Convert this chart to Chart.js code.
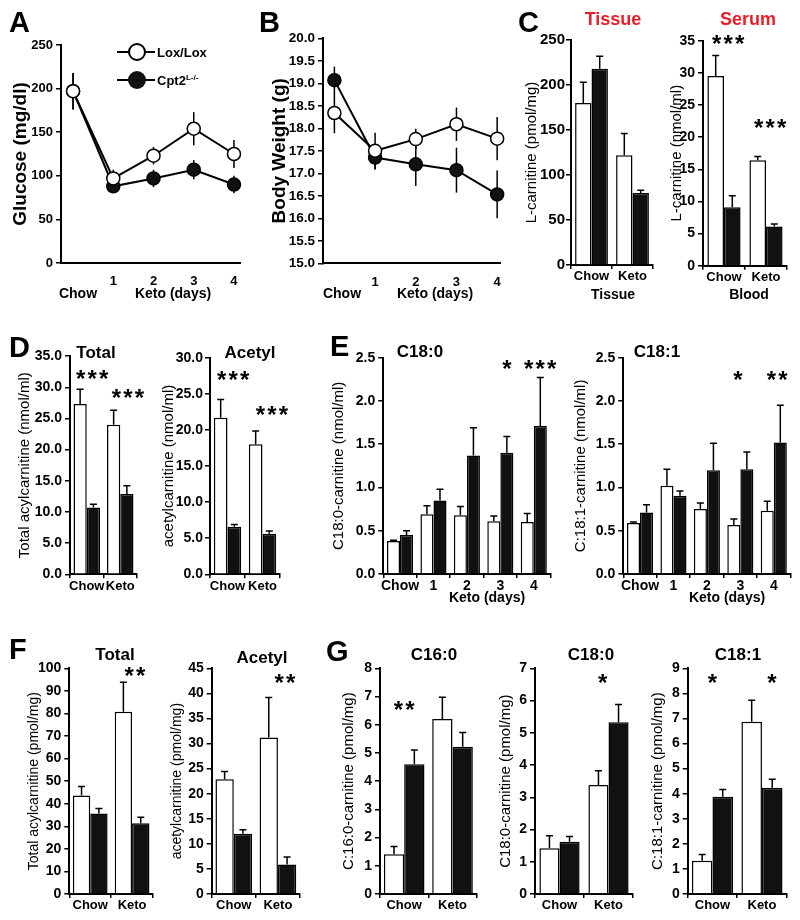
<!DOCTYPE html>
<html><head><meta charset="utf-8">
<script src="https://cdn.jsdelivr.net/npm/chart.js@4.4.0/dist/chart.umd.min.js"></script>
<style>
body{margin:0;background:#fff;width:800px;height:920px;position:relative;overflow:hidden;font-family:"Liberation Sans",Arial,Helvetica,sans-serif;}
canvas{position:absolute;}
.t{position:absolute;white-space:nowrap;line-height:1;color:#000;font-weight:bold;}
</style></head><body>
<script>
// ---------------- DATA ----------------
const dayX = [0, 1, 2, 3, 4];
const dayTicks = [1, 2, 3, 4];
const dayLabels = ['Chow', '1', '2', '3', '4'];
const dietLabels = ['Chow', 'Keto'];

// A: glucose (mg/dl)
const glucoseLox = [197, 97, 123, 154, 125];
const glucoseLoxErr = [21, 10, 10, 19, 16];
const glucoseCpt2 = [197, 88, 97, 107, 90];
const glucoseCpt2Err = [21, 5, 10, 11, 10];

// B: body weight (g)
const weightLox = [18.34, 17.50, 17.76, 18.09, 17.77];
const weightLoxErr = [0.45, 0.40, 0.23, 0.37, 0.48];
const weightCpt2 = [19.07, 17.35, 17.20, 17.07, 16.53];
const weightCpt2Err = [0.30, 0.27, 0.48, 0.50, 0.53];

// C: L-carnitine
const tissueLox = [180, 122], tissueLoxErr = [23, 24];
const tissueCpt2 = [218, 80], tissueCpt2Err = [14, 3];
const serumLox = [29.5, 16.4], serumLoxErr = [3.2, 0.6];
const serumCpt2 = [9.1, 6.1], serumCpt2Err = [1.8, 0.4];
const serumStars = [{x: 0.1, y: 35.2, n: 3}, {x: 1.1, y: 22.1, n: 3}];

// D: serum acylcarnitines
const dTotalLox = [27.3, 24.0], dTotalLoxErr = [2.4, 2.3];
const dTotalCpt2 = [10.7, 12.9], dTotalCpt2Err = [0.55, 1.3];
const dTotalStars = [{x: 0.16, y: 32, n: 3}, {x: 1.23, y: 29, n: 3}];
const dAcetylLox = [21.7, 18.0], dAcetylLoxErr = [2.5, 1.85];
const dAcetylCpt2 = [6.6, 5.6], dAcetylCpt2Err = [0.3, 0.4];
const dAcetylStars = [{x: 0.16, y: 27.6, n: 3}, {x: 1.27, y: 22.75, n: 3}];

// E: serum long-chain acylcarnitines over keto days
const eC180Lox = [0.38, 0.69, 0.68, 0.61, 0.60], eC180LoxErr = [0.01, 0.10, 0.10, 0.06, 0.10];
const eC180Cpt2 = [0.45, 0.85, 1.37, 1.40, 1.71], eC180Cpt2Err = [0.05, 0.13, 0.32, 0.19, 0.56];
const eC180Stars = [{x: 3.2, y: 2.42, n: 1}, {x: 4.19, y: 2.42, n: 3}];
const eC181Lox = [0.59, 1.02, 0.75, 0.565, 0.73], eC181LoxErr = [0.01, 0.19, 0.07, 0.07, 0.11];
const eC181Cpt2 = [0.71, 0.905, 1.20, 1.21, 1.52], eC181Cpt2Err = [0.09, 0.055, 0.31, 0.20, 0.43];
const eC181Stars = [{x: 2.93, y: 2.29, n: 1}, {x: 4.1, y: 2.29, n: 2}];

// F: tissue acylcarnitines
const fTotalLox = [43.6, 80.8], fTotalLoxErr = [4, 13];
const fTotalCpt2 = [35.7, 31.3], fTotalCpt2Err = [2.2, 2.7];
const fTotalStars = [{x: 1.07, y: 98.8, n: 2}];
const fAcetylLox = [22.9, 31.2], fAcetylLoxErr = [1.5, 8];
const fAcetylCpt2 = [12.0, 5.9], fAcetylCpt2Err = [0.8, 1.5];
const fAcetylStars = [{x: 1.16, y: 43, n: 2}];

// G: tissue long-chain acylcarnitines
const gC160Lox = [1.41, 6.2], gC160LoxErr = [0.27, 0.77];
const gC160Cpt2 = [4.6, 5.22], gC160Cpt2Err = [0.5, 0.5];
const gC160Stars = [{x: 0, y: 6.67, n: 2}];
const gC180Lox = [1.42, 3.38], gC180LoxErr = [0.39, 0.44];
const gC180Cpt2 = [1.62, 5.33], gC180Cpt2Err = [0.16, 0.55];
const gC180Stars = [{x: 0.88, y: 6.69, n: 1}];
const gC181Lox = [1.33, 6.87], gC181LoxErr = [0.25, 0.86];
const gC181Cpt2 = [3.88, 4.24], gC181Cpt2Err = [0.29, 0.34];
const gC181Stars = [{x: 0, y: 8.6, n: 1}, {x: 1.2, y: 8.6, n: 1}];

// ---------------- RENDERING ----------------
const FONT = '"Liberation Sans", Arial, Helvetica, sans-serif';
Chart.defaults.font.family = FONT;
Chart.defaults.color = '#000';

function drawErr(chart, opts) {
  const ctx = chart.ctx, ys = chart.scales.y;
  ctx.save();
  ctx.strokeStyle = '#000';
  ctx.lineWidth = 1.5;
  chart.data.datasets.forEach((ds, di) => {
    const meta = chart.getDatasetMeta(di);
    const errs = opts.errs[di];
    meta.data.forEach((el, i) => {
      const raw = ds.data[i];
      const v = (typeof raw === 'object') ? raw.y : raw;
      const e = errs[i];
      const yT = ys.getPixelForValue(v + e);
      const yV = ys.getPixelForValue(v);
      ctx.beginPath();
      if (opts.mode === 'both') {
        const yB = ys.getPixelForValue(v - e);
        ctx.moveTo(el.x, yB); ctx.lineTo(el.x, yT);
      } else {
        const bw = el.width || 10;
        const cap = Math.max(7, Math.min(11, bw * 0.3));
        ctx.moveTo(el.x, yV); ctx.lineTo(el.x, yT);
        ctx.moveTo(el.x - cap / 2, yT); ctx.lineTo(el.x + cap / 2, yT);
      }
      ctx.stroke();
    });
  });
  ctx.restore();
}
const errPlugin = {
  id: 'errbars',
  beforeDatasetsDraw(chart, args, opts) { if (opts.errs && opts.mode === 'both') drawErr(chart, opts); },
  afterDatasetsDraw(chart, args, opts) { if (opts.errs && opts.mode !== 'both') drawErr(chart, opts); }
};
const starPlugin = {
  id: 'stars',
  afterDraw(chart, args, opts) {
    if (!opts.items || !opts.items.length) return;
    const ctx = chart.ctx, xs = chart.scales.x, ys = chart.scales.y;
    const p0 = xs.getPixelForValue(0), p1 = xs.getPixelForValue(1);
    ctx.save();
    ctx.font = 'bold 24px ' + FONT;
    ctx.fillStyle = '#000';
    ctx.textAlign = 'center';
    ctx.textBaseline = 'alphabetic';
    const m = ctx.measureText('*');
    const off = (m.actualBoundingBoxAscent - m.actualBoundingBoxDescent) / 2;
    opts.items.forEach(it => {
      const cx = p0 + it.x * (p1 - p0);
      const cy = ys.getPixelForValue(it.y);
      for (let k = 0; k < it.n; k++) {
        ctx.fillText('*', cx + (k - (it.n - 1) / 2) * 11.5, cy + off);
      }
    });
    ctx.restore();
  }
};

function makeCanvas(g) {
  const padTop = 14;
  const cl = Math.round(g.titleX - (4 + g.titleSize * 0.6));
  const ct = Math.round(g.plotT - padTop);
  const W = Math.ceil(g.plotR - cl + 16);
  const H = Math.ceil(g.plotB - ct + 30);
  const c = document.createElement('canvas');
  c.width = W; c.height = H;
  Object.assign(c.style, {left: cl + 'px', top: ct + 'px', width: W + 'px', height: H + 'px'});
  document.body.appendChild(c);
  return {c, yW: g.plotL - cl, xH: H - (g.plotB - ct), padTop: g.plotT - ct, padRight: W - (g.plotR - cl)};
}

function yScale(k, g, spec) {
  return {
    min: spec.yMin || 0, max: spec.yMax,
    ticks: {stepSize: spec.yStep, padding: spec.yPad === undefined ? 3 : spec.yPad, color: '#000',
      font: {size: spec.yFont || 14, weight: 'bold'},
      callback: v => spec.dec ? Number(v).toFixed(spec.dec) : v},
    grid: {display: true, drawOnChartArea: false, drawTicks: true, tickLength: 5, color: '#000', lineWidth: 1.5},
    border: {display: true, color: '#000', width: 2},
    title: {display: true, text: spec.title, color: '#000',
      font: {size: g.titleSize, weight: g.titleWeight || 'normal'}, padding: {top: 4, bottom: 0}},
    afterFit: s => { s.width = k.yW; }
  };
}

function barChart(g, spec) {
  const k = makeCanvas(g);
  return new Chart(k.c, {
    type: 'bar',
    data: {labels: spec.labels, datasets: [
      {data: spec.lox, backgroundColor: '#fff', borderColor: '#000', borderWidth: 1.5, borderSkipped: 'bottom'},
      {data: spec.cpt, backgroundColor: '#111', borderColor: '#000', borderWidth: 1.5, borderSkipped: 'bottom'}]},
    options: {
      responsive: false, animation: false, devicePixelRatio: 1,
      layout: {padding: {top: k.padTop, right: k.padRight, left: 0, bottom: 0}},
      datasets: {bar: {categoryPercentage: spec.catPct, barPercentage: 1}},
      plugins: {legend: {display: false}, tooltip: {enabled: false},
        errbars: {errs: [spec.loxErr, spec.cptErr], mode: 'up'},
        stars: {items: spec.stars || []}},
      scales: {
        x: {grid: {display: true, drawOnChartArea: false, drawTicks: true, tickLength: 4, offset: true, color: '#000', lineWidth: 1.5},
          border: {display: true, color: '#000', width: 2},
          ticks: {padding: 0, color: '#000', font: {size: spec.xFont || 13, weight: 'bold'}, maxRotation: 0, autoSkip: false},
          afterFit: s => { s.height = k.xH; }},
        y: yScale(k, g, spec)
      }
    },
    plugins: [errPlugin, starPlugin]
  });
}

function lineChart(g, spec) {
  const k = makeCanvas(g);
  const mk = arr => arr.map((v, i) => ({x: dayX[i], y: v}));
  const ds = (arr, fill) => ({data: mk(arr), borderColor: '#000', borderWidth: 2, pointRadius: 6.5,
    pointBackgroundColor: fill, pointBorderColor: '#000', pointBorderWidth: 1.5, tension: 0, clip: false});
  return new Chart(k.c, {
    type: 'line',
    data: {datasets: [ds(spec.lox, '#fff'), ds(spec.cpt, '#111')]},
    options: {
      responsive: false, animation: false, devicePixelRatio: 1,
      layout: {padding: {top: k.padTop, right: k.padRight, left: 0, bottom: 0}},
      plugins: {legend: {display: false}, tooltip: {enabled: false},
        errbars: {errs: [spec.loxErr, spec.cptErr], mode: 'both'}},
      scales: {
        x: {type: 'linear', min: spec.xMin, max: spec.xMax,
          afterBuildTicks: s => { s.ticks = dayTicks.map(v => ({value: v})); },
          ticks: {padding: 3, color: '#000', font: {size: 13, weight: 'bold'}, callback: v => v},
          grid: {display: false},
          border: {display: true, color: '#000', width: 2},
          afterFit: s => { s.height = k.xH; }},
        y: yScale(k, g, spec)
      }
    },
    plugins: [errPlugin]
  });
}

// A
lineChart({plotL: 61, plotR: 240, plotT: 45, plotB: 263, titleX: 20, titleSize: 19, titleWeight: 'bold'},
  {lox: glucoseLox, loxErr: glucoseLoxErr, cpt: glucoseCpt2, cptErr: glucoseCpt2Err,
   xMin: -0.3, xMax: 4.15, yMax: 250, yStep: 50, yFont: 13, title: 'Glucose (mg/dl)'});
// B
lineChart({plotL: 323, plotR: 500, plotT: 38.3, plotB: 263.3, titleX: 279, titleSize: 19, titleWeight: 'bold'},
  {lox: weightLox, loxErr: weightLoxErr, cpt: weightCpt2, cptErr: weightCpt2Err,
   xMin: -0.28, xMax: 4.07, yMin: 15, yMax: 20, yStep: 0.5, dec: 1, yFont: 13.5, title: 'Body Weight (g)'});
// C
barChart({plotL: 571, plotR: 653, plotT: 40, plotB: 265, titleX: 532, titleSize: 15},
  {labels: dietLabels, lox: tissueLox, loxErr: tissueLoxErr, cpt: tissueCpt2, cptErr: tissueCpt2Err,
   catPct: 0.8, yMax: 250, yStep: 50, yFont: 15, yPad: 1, title: 'L-carnitine (pmol/mg)'});
barChart({plotL: 703, plotR: 787, plotT: 40.7, plotB: 265.7, titleX: 676.7, titleSize: 15},
  {labels: dietLabels, lox: serumLox, loxErr: serumLoxErr, cpt: serumCpt2, cptErr: serumCpt2Err,
   catPct: 0.79, yMax: 35, yStep: 5, yFont: 14, title: 'L-carnitine (nmol/ml)', stars: serumStars});
// D
barChart({plotL: 70, plotR: 137, plotT: 356.1, plotB: 574.3, titleX: 25, titleSize: 15},
  {labels: dietLabels, lox: dTotalLox, loxErr: dTotalLoxErr, cpt: dTotalCpt2, cptErr: dTotalCpt2Err,
   catPct: 0.79, yMax: 35, yStep: 5, dec: 1, title: 'Total acylcarnitine (nmol/ml)', stars: dTotalStars});
barChart({plotL: 210, plotR: 280, plotT: 357.7, plotB: 574.3, titleX: 169, titleSize: 15},
  {labels: dietLabels, lox: dAcetylLox, loxErr: dAcetylLoxErr, cpt: dAcetylCpt2, cptErr: dAcetylCpt2Err,
   catPct: 0.78, yMax: 30, yStep: 5, dec: 1, yPad: 2, title: 'acetylcarnitine (nmol/ml)', stars: dAcetylStars});
// E
barChart({plotL: 383.3, plotR: 550.5, plotT: 357.7, plotB: 574, titleX: 339, titleSize: 15},
  {labels: dayLabels, lox: eC180Lox, loxErr: eC180LoxErr, cpt: eC180Cpt2, cptErr: eC180Cpt2Err,
   catPct: 0.78, yMax: 2.5, yStep: 0.5, dec: 1, xFont: 14, title: 'C18:0-carnitine (nmol/ml)', stars: eC180Stars});
barChart({plotL: 623.3, plotR: 790.5, plotT: 357.7, plotB: 574, titleX: 581, titleSize: 15},
  {labels: dayLabels, lox: eC181Lox, loxErr: eC181LoxErr, cpt: eC181Cpt2, cptErr: eC181Cpt2Err,
   catPct: 0.78, yMax: 2.5, yStep: 0.5, dec: 1, xFont: 14, title: 'C:18:1-carnitine (nmol/ml)', stars: eC181Stars});
// F
barChart({plotL: 69.3, plotR: 153, plotT: 668.3, plotB: 894, titleX: 34, titleSize: 14},
  {labels: dietLabels, lox: fTotalLox, loxErr: fTotalLoxErr, cpt: fTotalCpt2, cptErr: fTotalCpt2Err,
   catPct: 0.83, yMax: 100, yStep: 10, title: 'Total acylcarnitine (pmol/mg)', stars: fTotalStars});
barChart({plotL: 211.7, plotR: 300, plotT: 668.3, plotB: 894, titleX: 177, titleSize: 14},
  {labels: dietLabels, lox: fAcetylLox, loxErr: fAcetylLoxErr, cpt: fAcetylCpt2, cptErr: fAcetylCpt2Err,
   catPct: 0.83, yMax: 45, yStep: 5, title: 'acetylcarnitine (pmol/mg)', stars: fAcetylStars});
// G
barChart({plotL: 380, plotR: 476.7, plotT: 668.3, plotB: 894, titleX: 349, titleSize: 15},
  {labels: dietLabels, lox: gC160Lox, loxErr: gC160LoxErr, cpt: gC160Cpt2, cptErr: gC160Cpt2Err,
   catPct: 0.84, yMax: 8, yStep: 1, title: 'C:16:0-carnitine (pmol/mg)', stars: gC160Stars});
barChart({plotL: 535, plotR: 633, plotT: 668.3, plotB: 894, titleX: 506, titleSize: 15},
  {labels: dietLabels, lox: gC180Lox, loxErr: gC180LoxErr, cpt: gC180Cpt2, cptErr: gC180Cpt2Err,
   catPct: 0.82, yMax: 7, yStep: 1, title: 'C18:0-carnitine (pmol/mg)', stars: gC180Stars});
barChart({plotL: 687.7, plotR: 786.7, plotT: 668.3, plotB: 894, titleX: 657.5, titleSize: 15},
  {labels: dietLabels, lox: gC181Lox, loxErr: gC181LoxErr, cpt: gC181Cpt2, cptErr: gC181Cpt2Err,
   catPct: 0.83, yMax: 9, yStep: 1, title: 'C:18:1-carnitine (pmol/mg)', stars: gC181Stars});

// ---------------- TEXT OVERLAYS ----------------
function txt(html, x, base, size, align, extra) {
  const d = document.createElement('div');
  d.className = 't';
  d.innerHTML = html;
  d.style.fontSize = size + 'px';
  d.style.top = (base - 0.8465 * size) + 'px';
  d.style.left = x + 'px';
  if (align === 'center') d.style.transform = 'translateX(-50%)';
  if (extra) d.style.cssText += extra;
  document.body.appendChild(d);
}
function box(x, y, w, h, style) {
  const d = document.createElement('div');
  d.style.cssText = `position:absolute;left:${x}px;top:${y}px;width:${w}px;height:${h}px;box-sizing:border-box;` + style;
  document.body.appendChild(d);
}
// panel letters
[['A', 9, 33], ['B', 259, 33], ['C', 518, 33], ['D', 9, 358], ['E', 330, 357], ['F', 9, 660], ['G', 326, 662]]
  .forEach(([s, x, b]) => txt(s, x, b, 29, 'left'));
// red titles
txt('Tissue', 613, 25, 18, 'center', 'color:#e8202a;');
txt('Serum', 748, 25, 18, 'center', 'color:#e8202a;');
// panel sub-titles
[['Total', 96, 358], ['Acetyl', 250, 358], ['C18:0', 420, 357], ['C18:1', 657, 357],
 ['Total', 115, 660], ['Acetyl', 262, 663], ['C16:0', 434, 660], ['C18:0', 591, 660], ['C18:1', 738, 660]]
  .forEach(([s, x, b]) => txt(s, x, b, 17, 'center'));
// second-line axis labels
txt('Chow', 78, 298, 14, 'center');
txt('Keto (days)', 173, 298, 14, 'center');
txt('Chow', 342, 298, 14, 'center');
txt('Keto (days)', 435, 298, 14, 'center');
txt('Tissue', 613, 299, 14, 'center');
txt('Blood', 749, 299, 14, 'center');
txt('Keto (days)', 487, 602, 14, 'center');
txt('Keto (days)', 727, 602, 14, 'center');
// legend (panel A)
box(117, 51, 38, 2, 'background:#000;');
box(128, 43, 18, 18, 'border:2px solid #000;border-radius:50%;background:#fff;');
box(117, 79, 38, 2, 'background:#000;');
box(128, 71, 18, 18, 'border-radius:50%;background:#111;');
txt('Lox/Lox', 157, 57, 13, 'left');
txt('Cpt2<span style="font-size:8px;position:relative;top:-5px;">L-/-</span>', 157, 85, 13, 'left');
</script>
</body></html>
